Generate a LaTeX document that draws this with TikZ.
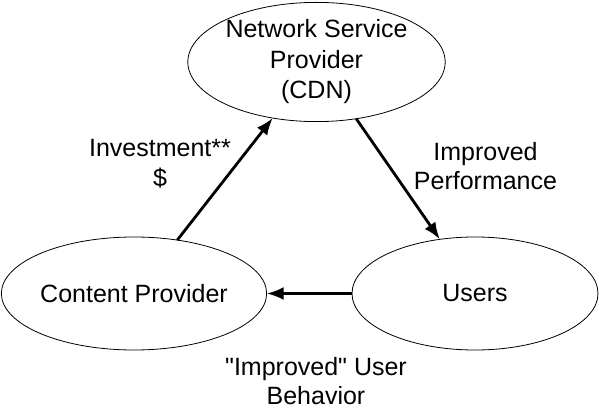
\documentclass[tikz,border=0pt]{standalone}
\usepackage{fontspec}
\setmainfont{Liberation Sans}
\usetikzlibrary{arrows.meta}
\usetikzlibrary{shapes.geometric}

\begin{document}
\begin{tikzpicture}[x=1pt, y=-1pt,
        party/.style={draw, ellipse, line width=0.8pt, inner sep=0pt, outer sep=0pt, align=center, font=\fontsize{25}{30.5}\selectfont},
        lbl/.style={align=center, font=\fontsize{25}{29.5}\selectfont},
        flow/.style={line width=2.8pt, -{Latex[length=17pt, width=13pt]}}]
    \useasboundingbox (0,0) rectangle (599,411);
    % the three parties
    \node[party, minimum width=253pt, minimum height=114pt] (NSP) at (316.5,62) {Network Service\\Provider\\(CDN)};
    \node[party, minimum width=252pt, minimum height=113pt] (CP) at (134,293.5) {Content Provider};
    \node[party, minimum width=246pt, minimum height=113pt] (U) at (475,293.5) {Users};
    % what flows between them
    \node[lbl] (inv) at (160,164) {Investment**\\\$};
    \node[lbl] (perf) at (485.5,166) {Improved\\Performance};
    \node[lbl] (beh) at (316,381) {\textquotedbl Improved\textquotedbl{} User\\Behavior};
    \draw[flow] (CP.51) -- (NSP.232.5);
    \draw[flow] (NSP.305) -- (U.123.5);
    \draw[flow] (U.west) -- (CP.east);
\end{tikzpicture}
\end{document}
